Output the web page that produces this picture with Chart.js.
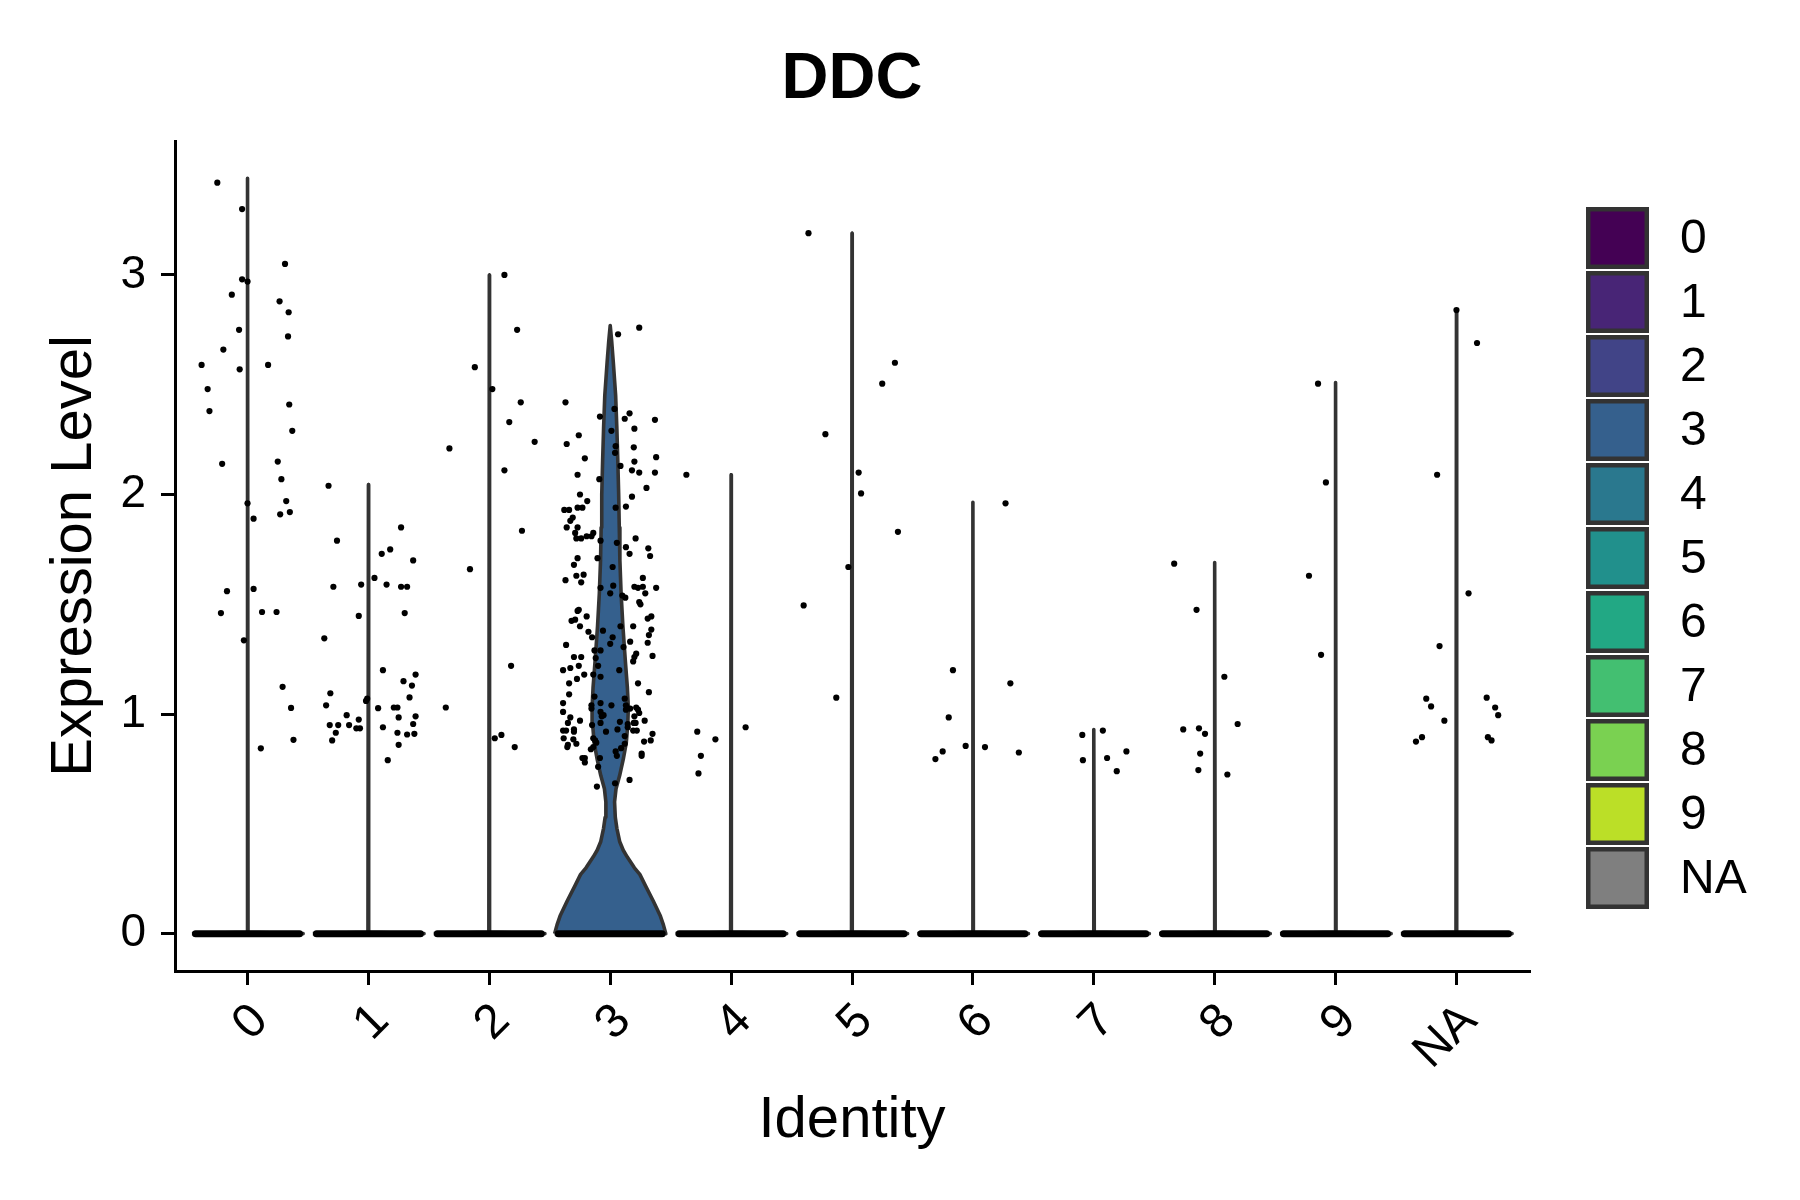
<!DOCTYPE html>
<html>
<head>
<meta charset="utf-8">
<script src="https://cdn.jsdelivr.net/npm/chart.js@4.4.1/dist/chart.umd.min.js"></script>
<style>
html,body{margin:0;padding:0;background:#ffffff;}
#wrap{width:1800px;height:1200px;}
</style>
</head>
<body>
<div id="wrap"><canvas id="c" width="1800" height="1200"></canvas></div>
<script>
// ---------------- data ----------------
const chartTitle = 'DDC';
const xTitle = 'Identity';
const yTitle = 'Expression Level';
const categories = ['0','1','2','3','4','5','6','7','8','9','NA'];
const groupColors = ['#440154','#482576','#414487','#35608D','#2A788E','#21908C','#22A884','#43BF71','#7AD151','#BBDF27','#7F7F7F'];
const yTicks = [0, 1, 2, 3];
const yRange = [-0.17, 3.61];

// maximum expression per group (top of each violin)
const violinMax = [3.44, 2.045, 3.0, 2.77, 2.09, 3.19, 1.965, 0.93, 1.69, 2.51, 2.84];

// density profile of the only wide violin (group 3): level -> half width
const violin3Levels = [0, 0.04, 0.08, 0.15, 0.22, 0.27, 0.3, 0.35, 0.38, 0.42, 0.48, 0.53, 0.6, 0.66, 0.72, 0.8, 0.87, 0.95, 1.03, 1.12, 1.25, 1.4, 1.55, 1.7, 1.85, 2.0, 2.15, 2.3, 2.45, 2.6, 2.7, 2.77];
const violin3Half   = [0.46, 0.44, 0.415, 0.355, 0.29, 0.245, 0.2, 0.14, 0.108, 0.078, 0.055, 0.042, 0.036, 0.048, 0.078, 0.11, 0.133, 0.145, 0.15, 0.142, 0.124, 0.105, 0.09, 0.08, 0.075, 0.07, 0.063, 0.055, 0.045, 0.026, 0.012, 0];
// other violins: almost all cells at 0 -> flat base, then a hairline
const thinBaseHalf = 0.46;
const thinNeckLevel = 0.006;
const thinNeckHalf = 0.004;
// cells with value 0 form a dense band
const zeroBandHalf = 0.43;

// non-zero cells per group: [jitter, expression]
const cells0 = [[-0.25,3.42],[-0.045,3.30],[-0.045,2.98],[0,2.97],[-0.13,2.91],[0.31,3.05],[0.265,2.88],[0.34,2.83],[0.335,2.72],[-0.07,2.75],[-0.2,2.66],[-0.38,2.59],[-0.065,2.57],[0.17,2.59],[-0.33,2.48],[-0.315,2.38],[0.345,2.41],[0.37,2.29],[-0.21,2.14],[0.25,2.15],[0.28,2.07],[0,1.96],[0.32,1.97],[0.27,1.91],[0.35,1.92],[0.05,1.89],[-0.17,1.56],[0.05,1.57],[-0.22,1.46],[0.12,1.465],[0.24,1.465],[-0.03,1.336],[0.29,1.124],[0.36,1.028],[0.38,0.883],[0.11,0.844]];
const cells1 = [[-0.33,2.04],[-0.26,1.79],[0.27,1.85],[0.11,1.73],[0.18,1.75],[0.37,1.70],[0.05,1.62],[-0.06,1.59],[-0.29,1.58],[0.15,1.59],[0.27,1.58],[0.32,1.58],[-0.08,1.447],[0.30,1.46],[-0.365,1.345],[0.12,1.20],[0.39,1.18],[0.29,1.15],[0.36,1.13],[-0.315,1.095],[0.34,1.076],[-0.02,1.06],[-0.01,1.07],[-0.35,1.04],[0.08,1.027],[0.21,1.03],[0.24,1.03],[-0.18,0.995],[0.25,0.985],[0.39,0.99],[-0.08,0.975],[-0.32,0.95],[-0.25,0.95],[-0.16,0.95],[-0.1,0.935],[-0.07,0.935],[0.12,0.94],[0.37,0.955],[-0.27,0.915],[0.24,0.915],[0.32,0.907],[0.38,0.91],[-0.30,0.88],[0.25,0.86],[0.16,0.79]];
const cells2 = [[0.125,3.0],[0.23,2.75],[-0.12,2.58],[0.025,2.48],[0.26,2.42],[0.165,2.33],[0.375,2.24],[-0.33,2.21],[0.125,2.11],[0.27,1.835],[-0.16,1.66],[-0.36,1.03],[0.18,1.22],[0.045,0.89],[0.10,0.905],[0.21,0.85]];
const cells3 = [[0.065,2.73],[0.24,2.76],[-0.37,2.42],[0.035,2.39],[0.16,2.37],[-0.085,2.355],[0.12,2.345],[0.37,2.34],[0.2,2.30],[0.01,2.29],[-0.26,2.27],[-0.36,2.23],[0.045,2.22],[0.195,2.215],[0.04,2.19],[-0.21,2.165],[0.38,2.17],[0.2,2.15],[0.085,2.13],[0.18,2.11],[0.24,2.10],[0.37,2.10],[-0.27,2.09],[-0.09,2.07],[0.3,2.03],[-0.25,2.0],[0.18,1.99],[-0.19,1.97],[0.13,1.945],[0.045,1.94],[-0.38,1.93],[-0.34,1.93],[-0.27,1.94],[-0.23,1.94],[-0.31,1.895],[-0.33,1.88],[-0.36,1.85],[-0.27,1.85],[-0.29,1.825],[-0.28,1.80],[-0.24,1.80],[-0.195,1.81],[-0.155,1.81],[-0.14,1.825],[-0.08,1.79],[0.055,1.78],[0.21,1.80],[0.13,1.76],[0.315,1.755],[0.16,1.73],[0.33,1.72],[-0.27,1.71],[-0.105,1.71],
[-0.30,1.68],[0.02,1.67],[-0.28,1.63],[-0.22,1.635],[-0.37,1.61],[-0.24,1.60],[0.27,1.62],[0.2,1.58],[0.23,1.575],[0.27,1.58],[0.38,1.575],[-0.08,1.575],[0.025,1.585],[0,1.55],[0.29,1.55],[0.1,1.54],[0.125,1.53],[0.24,1.51],[0.25,1.50],[-0.26,1.475],[-0.27,1.47],[-0.195,1.445],[-0.29,1.43],[-0.32,1.425],[0.34,1.445],[0.31,1.435],[-0.25,1.40],[0.085,1.40],[0.19,1.40],[0.34,1.385],[-0.06,1.38],[-0.18,1.375],[0.32,1.36],[-0.15,1.35],[0.02,1.35],[0.165,1.33],[0,1.32],[0.31,1.325],[-0.365,1.315],[0.11,1.305],[-0.13,1.29],[-0.08,1.29],[0.215,1.275],[0.2,1.26],[0.35,1.265],[-0.3,1.26],[-0.24,1.26],[-0.12,1.255],[0.19,1.24],[-0.1,1.22],[-0.26,1.22],[-0.33,1.21],[-0.39,1.20],[0.075,1.20],[-0.14,1.18],[-0.215,1.18],[-0.08,1.17],[-0.275,1.16],[-0.34,1.14],[0.23,1.14],[0.32,1.10],[-0.34,1.09],[-0.13,1.08],[0.12,1.07],[-0.39,1.05],[-0.08,1.05],[-0.155,1.04],[-0.155,1.025],[0.01,1.04],[0.13,1.04],[0.165,1.025],[0.13,1.02],[0.215,1.03],[0.23,1.02],[0.24,1.005],[-0.39,1.01],[-0.08,1.01],[-0.055,0.995],[-0.07,0.99],[0.2,0.99],[0.21,0.96],[0.195,0.96],[-0.33,0.985],[-0.25,0.97],[0.285,0.97],[0.08,0.965],[-0.35,0.96],[-0.15,0.95],[-0.08,0.96],[0.145,0.955],[0.145,0.94],[-0.3,0.93],[-0.3,0.92],[-0.39,0.925],[-0.365,0.925],[0.06,0.93],[-0.035,0.92],[0.19,0.925],[0.22,0.925],[0.35,0.91],[0.12,0.90],[-0.385,0.89],[-0.14,0.89],[-0.125,0.88],[-0.115,0.87],[-0.305,0.885],[0.335,0.88],[0.28,0.875],[-0.35,0.86],[-0.28,0.865],[0.12,0.865],[-0.355,0.85],[-0.16,0.84],[-0.14,0.85],[0.09,0.845],[0.045,0.83],[0.055,0.81],[0.26,0.82],[0.26,0.81],[-0.23,0.80],[-0.21,0.80],[-0.21,0.78],[-0.085,0.80],[-0.1,0.76],[0.16,0.70],[0.04,0.685],[-0.11,0.67]];
const cells4 = [[-0.37,2.09],[-0.28,0.92],[-0.13,0.885],[-0.25,0.81],[-0.27,0.73],[0.12,0.94]];
const cells5 = [[-0.36,3.19],[0.355,2.60],[0.25,2.505],[-0.22,2.275],[0.055,2.10],[0.075,2.005],[0.38,1.83],[-0.03,1.67],[-0.40,1.495],[-0.13,1.075]];
const cells6 = [[0.27,1.96],[-0.165,1.20],[0.31,1.14],[-0.2,0.985],[-0.06,0.855],[0.1,0.85],[-0.25,0.83],[-0.31,0.795],[0.38,0.825]];
const cells7 = [[-0.095,0.905],[0.075,0.925],[-0.09,0.79],[0.11,0.80],[0.27,0.83],[0.19,0.74]];
const cells8 = [[-0.335,1.685],[-0.15,1.475],[0.08,1.17],[0.19,0.955],[-0.26,0.93],[-0.13,0.935],[-0.08,0.91],[-0.12,0.82],[-0.135,0.745],[0.105,0.725]];
const cells9 = [[-0.145,2.505],[-0.08,2.055],[-0.22,1.63],[-0.12,1.27]];
const cellsNA = [[0,2.84],[0.17,2.69],[-0.16,2.09],[0.1,1.55],[-0.14,1.31],[-0.25,1.07],[-0.21,1.035],[-0.1,0.97],[-0.285,0.895],[-0.335,0.875],[0.25,1.075],[0.32,1.03],[0.345,0.995],[0.26,0.895],[0.29,0.88]];
const cellsByGroup = [cells0, cells1, cells2, cells3, cells4, cells5, cells6, cells7, cells8, cells9, cellsNA];

// ---------------- build datasets ----------------
const FONT = "'Liberation Sans', Arial, Helvetica, sans-serif";

function violinOutline(i) {
  let levels, half;
  if (i === 3) { levels = violin3Levels; half = violin3Half; }
  else { levels = [0, thinNeckLevel, violinMax[i]]; half = [thinBaseHalf, thinNeckHalf, 0]; }
  const pts = [];
  for (let k = 0; k < levels.length; k++) pts.push({x: i - half[k], y: levels[k]});
  for (let k = levels.length - 1; k >= 0; k--) pts.push({x: i + half[k], y: levels[k]});
  pts.push({x: i - half[0], y: levels[0]});
  return pts;
}

const datasets = [];
const pointData = [];
cellsByGroup.forEach((cells, i) => cells.forEach(c => pointData.push({x: i + c[0], y: c[1]})));
datasets.push({
  label: 'cells', data: pointData, order: 0,
  showLine: false, pointRadius: 3.1, pointHoverRadius: 3.1, pointBorderWidth: 0,
  pointBackgroundColor: '#000000', pointBorderColor: '#000000'
});
const zeroData = [];
categories.forEach((c, i) => {
  zeroData.push({x: i - zeroBandHalf, y: 0});
  zeroData.push({x: i + zeroBandHalf, y: 0});
  zeroData.push({x: i + 0.5, y: null});
});
datasets.push({
  label: 'zero', data: zeroData, order: 1, showLine: true, spanGaps: false,
  borderColor: '#000000', borderWidth: 7, borderCapStyle: 'round', pointRadius: 0, fill: false
});
categories.forEach((c, i) => {
  datasets.push({
    label: 'violin ' + c, data: violinOutline(i), order: 2, showLine: true,
    fill: 'shape', backgroundColor: groupColors[i], borderColor: '#333333',
    borderWidth: 3.6, borderJoinStyle: 'round', pointRadius: 0, tension: 0
  });
});

// ---------------- legend plugin ----------------
const keyLegend = {
  id: 'keyLegend',
  afterDraw(chart) {
    const ctx = chart.ctx;
    ctx.save();
    const boxX = 1586, boxW = 63, boxH = 62, step = 64, startY = 207;
    categories.forEach((c, i) => {
      const y = startY + i * step;
      ctx.fillStyle = '#333333';
      ctx.fillRect(boxX, y, boxW, boxH);
      ctx.fillStyle = groupColors[i];
      ctx.fillRect(boxX + 4.5, y + 4.5, boxW - 9, boxH - 9);
      ctx.fillStyle = '#000000';
      ctx.font = '48px ' + FONT;
      ctx.textAlign = 'left';
      ctx.textBaseline = 'middle';
      ctx.fillText(c, 1680, y + boxH / 2 + 2);
    });
    ctx.restore();
  }
};

new Chart(document.getElementById('c'), {
  type: 'scatter',
  data: { datasets },
  plugins: [keyLegend],
  options: {
    responsive: false, animation: false, devicePixelRatio: 1,
    layout: { padding: { left: 0, top: 0, right: 271, bottom: 0 } },
    plugins: {
      legend: { display: false },
      tooltip: { enabled: false },
      title: {
        display: true, text: chartTitle, fullSize: false, color: '#000000',
        font: { family: FONT, size: 65, weight: 'bold', lineHeight: 1.2 },
        padding: { top: 41, bottom: 22 }
      }
    },
    scales: {
      x: {
        type: 'linear', min: -0.6, max: 10.6,
        afterFit(s) { s.height = 229; },
        afterBuildTicks(s) { s.ticks = categories.map((c, i) => ({value: i})); },
        border: { display: true, color: '#000000', width: 3 },
        grid: { display: true, drawOnChartArea: false, drawTicks: true, tickLength: 14, tickWidth: 3, tickColor: '#000000', color: '#000000', lineWidth: 3 },
        ticks: {
          autoSkip: false, minRotation: 45, maxRotation: 45, includeBounds: false,
          color: '#000000', padding: 8, labelOffset: 13, font: { family: FONT, size: 48 },
          callback: (v) => categories[Math.round(v)]
        },
        title: { display: true, text: xTitle, color: '#000000', font: { family: FONT, size: 58, lineHeight: 1.2 }, padding: { top: 0, bottom: 44 } }
      },
      y: {
        type: 'linear', min: yRange[0], max: yRange[1],
        afterFit(s) { s.width = 175; },
        afterBuildTicks(s) { s.ticks = yTicks.map(v => ({value: v})); },
        border: { display: true, color: '#000000', width: 3 },
        grid: { display: true, drawOnChartArea: false, drawTicks: true, tickLength: 14, tickWidth: 3, tickColor: '#000000', color: '#000000', lineWidth: 3 },
        ticks: { color: '#000000', padding: 15, font: { family: FONT, size: 46 }, includeBounds: false,
          callback: (v) => String(v) },
        title: { display: true, text: yTitle, color: '#000000', font: { family: FONT, size: 58, lineHeight: 1.2 }, padding: { top: 40, bottom: 0 } }
      }
    }
  }
});
</script>
</body>
</html>
